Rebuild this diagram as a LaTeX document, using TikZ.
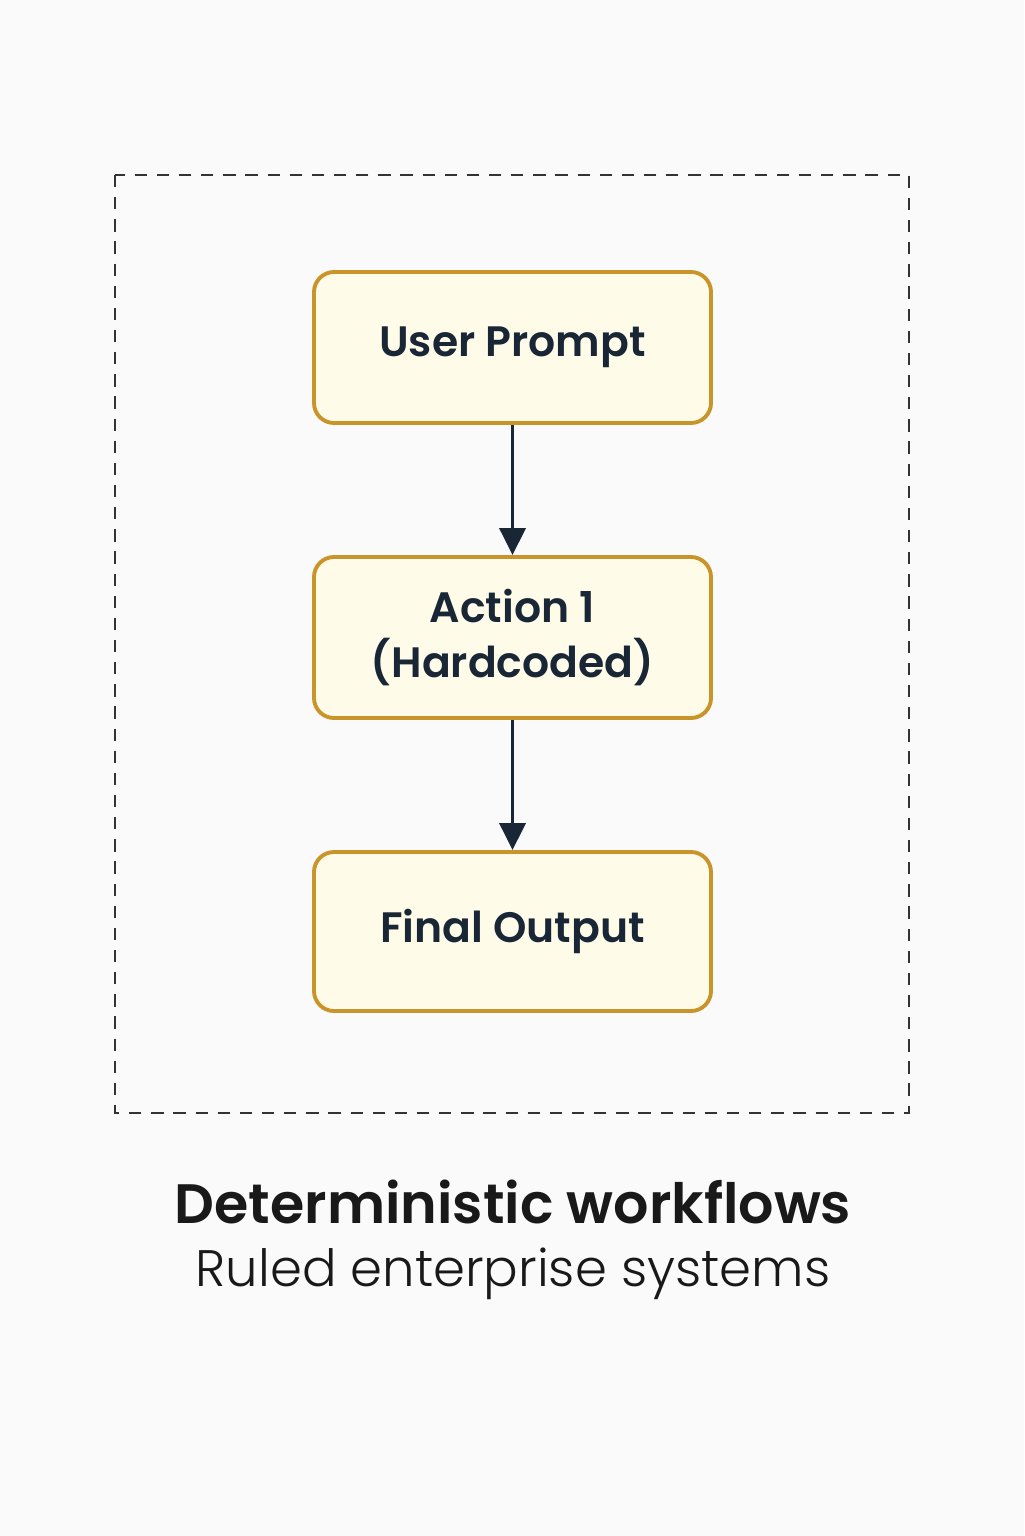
\documentclass[tikz,border=0pt]{standalone}
\usepackage{fontspec}
\setmainfont{Poppins}
\newfontfamily\semifont{Poppins SemiBold}
\newfontfamily\medfont{Poppins Medium}
\newfontfamily\lightfont{Poppins Light}
\usetikzlibrary{arrows.meta}
\definecolor{gold}{HTML}{C9952B}
\definecolor{cream}{HTML}{FEFBE8}
\definecolor{ink}{HTML}{182636}
\definecolor{paper}{HTML}{FAFAFA}
\tikzset{stage/.style={draw=gold,fill=cream,line width=1.1pt,rounded corners=0.2cm,minimum width=3.97cm,text=ink,font=\semifont\fontsize{12.1}{15.4}\selectfont,align=center},
  flow/.style={draw=ink,line width=1pt,-{Triangle[width=0.26cm,length=0.27cm]}}}

\begin{document}
\begin{tikzpicture}
\fill[paper] (0,0) rectangle (10.24,-15.36);
\draw[dash pattern=on 3.5pt off 2.8pt,line width=0.45pt,black!80] (1.15,-1.75) rectangle (9.09,-11.13);
\node[stage,minimum height=1.51cm] (prompt) at (5.125,-3.475) {User Prompt};
\node[stage,minimum height=1.61cm] (action) at (5.125,-6.375) {Action 1\\(Hardcoded)};
\node[stage,minimum height=1.59cm] (output) at (5.125,-9.315) {Final Output};
\draw[flow] (prompt) -- (action);
\draw[flow] (action) -- (output);
\node[font=\semifont\fontsize{15.8}{19}\selectfont,text=black!90] (title) at (5.13,-12.02) {Deterministic workflows};
\node[font=\lightfont\fontsize{14.6}{18}\selectfont,text=black!90] (sub) at (5.13,-12.74) {Ruled enterprise systems};
\end{tikzpicture}
\end{document}
